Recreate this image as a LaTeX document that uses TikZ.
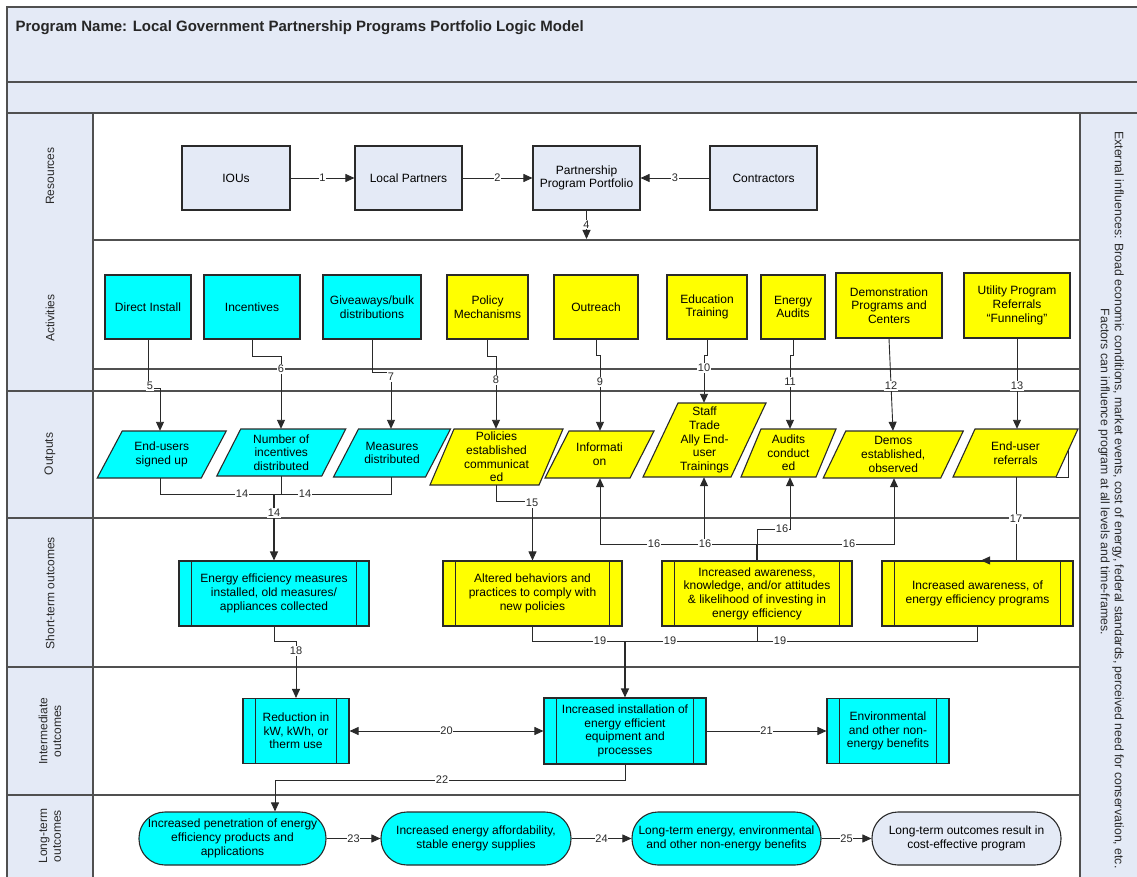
\documentclass[tikz,border=0pt]{standalone}
\usepackage{fontspec}
\setmainfont{Liberation Sans}
\usetikzlibrary{arrows.meta}
\definecolor{bandfill}{HTML}{E4EAF6}
\definecolor{linec}{HTML}{2A2A2A}
\definecolor{framec}{HTML}{505050}
\definecolor{cyanf}{HTML}{00FFFF}
\definecolor{yellowf}{HTML}{FFFF00}
\newcommand{\ParaBox}[8]{%
  \draw[line width=1.1pt, draw=linec, fill=#7] ({#2-#4/2+#6},{#3-#5/2}) -- ({#2+#4/2+#6},{#3-#5/2}) -- ({#2+#4/2-#6},{#3+#5/2}) -- ({#2-#4/2-#6},{#3+#5/2}) -- cycle;
  \node[ptext, minimum width=#4pt, minimum height=#5pt] (#1) at (#2,#3) {#8};}
\begin{document}
\begin{tikzpicture}[x=1pt,y=-1pt,
  box/.style={draw=linec, line width=1.1pt, align=center, font=\fontsize{12}{13.7}\selectfont, inner sep=1pt},
  res/.style={box, fill=bandfill},
  cyb/.style={box, fill=cyanf},
  yeb/.style={box, fill=yellowf},
  proc/.style={path picture={\draw[linec, line width=1.1pt]
     ([xshift=12.5pt]path picture bounding box.north west) -- ([xshift=12.5pt]path picture bounding box.south west)
     ([xshift=-12.5pt]path picture bounding box.north east) -- ([xshift=-12.5pt]path picture bounding box.south east);}},
  stad/.style={box, rounded corners=26pt},
  ptext/.style={inner sep=0pt, align=center, font=\fontsize{12}{13.7}\selectfont},
  frame/.style={draw=framec, line width=1.4pt},
  line/.style={draw=linec, line width=0.9pt},
  arr/.style={line, -{Triangle[length=9pt,width=8pt]}},
  arr2/.style={line, {Triangle[length=9pt,width=8pt]}-{Triangle[length=9pt,width=8pt]}},
  lbl/.style={fill=white, inner sep=0.8pt, font=\fontsize{11}{12}\selectfont, text=linec},
  lane/.style={font=\fontsize{12}{13.7}\selectfont, rotate=90, align=center, text=linec}
]
\useasboundingbox (0,0) rectangle (1137,877);
% backgrounds
\fill[white] (0,0) rectangle (1137,877);
\fill[bandfill] (7,7) rectangle (1137,113);
\fill[bandfill] (7,113) rectangle (93,877);
\fill[bandfill] (1080,113) rectangle (1137,877);
\draw[frame] (1137,7) -- (7,7) -- (7,877);
\draw[frame] (7,82) -- (1137,82);
\draw[frame] (7,113) -- (1137,113);
\draw[frame] (93,113) -- (93,877);
\draw[frame] (1080,113) -- (1080,877);
\draw[frame] (93,240) -- (1080,240);
\draw[frame] (93,369) -- (1080,369);
\draw[frame] (7,391) -- (1080,391);
\draw[frame] (7,518) -- (1080,518);
\draw[frame] (7,667) -- (1080,667);
\draw[frame] (7,795) -- (1080,795);

% title and lane labels
\node[anchor=west, font=\bfseries\fontsize{15}{17}\selectfont, text=black!85] (title) at (12,28) {Program Name: Local Government Partnership Programs Portfolio Logic Model};
\node[lane] (Lres) at (50,176) {Resources};
\node[lane] (Lact) at (50,318) {Activities};
\node[lane] (Lout) at (50,454) {Outputs};
\node[lane] (Lst) at (50,593) {Short-term outcomes};
\node[lane] (Lint) at (50,731) {Intermediate\\outcomes};
\node[lane] (Llt) at (50,836) {Long-term\\outcomes};
\node[font=\fontsize{12.3}{14}\selectfont, rotate=-90, align=center, text=linec] (ext) at (1111,500)
 {External influences: Broad economic conditions, market events, cost of energy, federal standards, perceived need for conservation, etc.\\Factors can influence program at all levels and time-frames.\hspace*{56pt}};

% resources
\node[res, minimum width=108pt, minimum height=64pt] (r1) at (236,178) {IOUs};
\node[res, minimum width=107pt, minimum height=64pt] (r2) at (408.5,178) {Local Partners};
\node[res, minimum width=107pt, minimum height=64pt] (r3) at (586.5,178) {Partnership\\Program Portfolio};
\node[res, minimum width=107pt, minimum height=64pt] (r4) at (763.5,178) {Contractors};

% activities
\node[cyb, minimum width=86pt, minimum height=64pt] (a1) at (148,307) {Direct Install};
\node[cyb, minimum width=96pt, minimum height=64pt] (a2) at (252,307) {Incentives};
\node[cyb, minimum width=98pt, minimum height=64pt] (a3) at (372,307) {Giveaways/bulk\\distributions};
\node[yeb, minimum width=81pt, minimum height=64pt] (a4) at (487.5,307) {Policy\\Mechanisms};
\node[yeb, minimum width=84pt, minimum height=64pt] (a5) at (596,307) {Outreach};
\node[yeb, minimum width=80pt, minimum height=64pt] (a6) at (707,307) {Education\\Training};
\node[yeb, minimum width=64pt, minimum height=64pt] (a7) at (793,307) {Energy\\Audits};
\node[yeb, minimum width=106pt, minimum height=65pt] (a8) at (889,305.5) {Demonstration\\Programs and\\Centers};
\node[yeb, minimum width=106pt, minimum height=65pt] (a9) at (1017,305.5) {Utility Program\\Referrals\\“Funneling”};

% outputs
\ParaBox{o1}{161.75}{454.5}{104}{47}{12.5}{cyanf}{End-users\\signed up}
\ParaBox{o2}{281.25}{452.5}{105}{47}{12}{cyanf}{Number of\\incentives\\distributed}
\ParaBox{o3}{392}{453}{92}{48}{12.5}{cyanf}{Measures\\distributed}
\ParaBox{o4}{496.5}{457}{109}{56}{12}{yellowf}{Policies\\established\\communicat\\ed}
\ParaBox{o5}{599.5}{454.5}{85}{47}{12}{yellowf}{Informati\\on}
\ParaBox{o6}{704.5}{440}{88}{74}{17.5}{yellowf}{Staff\\Trade\\Ally End-\\user\\Trainings}
\ParaBox{o7}{788.5}{453}{75}{48}{10}{yellowf}{Audits\\conduct\\ed}
\ParaBox{o8}{893.25}{454.5}{117.5}{47}{11.25}{yellowf}{Demos\\established,\\observed}
\ParaBox{o9}{1015.5}{453}{103}{48}{11}{yellowf}{End-user\\referrals}
\draw[line] (1056,477) -- (1068,477) -- (1068,449);

% short-term
\node[cyb, proc, minimum width=190pt, minimum height=65pt] (s1) at (274,593.5) {Energy efficiency measures\\installed, old measures/\\appliances collected};
\node[yeb, proc, minimum width=179pt, minimum height=65pt] (s2) at (532.5,593.5) {Altered behaviors and\\practices to comply with\\new policies};
\node[yeb, proc, minimum width=190pt, minimum height=65pt] (s3) at (757,593.5) {Increased awareness,\\knowledge, and/or attitudes\\\& likelihood of investing in\\energy efficiency};
\node[yeb, proc, minimum width=191pt, minimum height=65pt] (s4) at (977.5,593.5) {Increased awareness, of\\energy efficiency programs};

% intermediate
\node[cyb, proc, minimum width=106pt, minimum height=65pt] (i1) at (296,731) {Reduction in\\kW, kWh, or\\therm use};
\node[cyb, proc, minimum width=162pt, minimum height=66pt] (i2) at (625,731) {Increased installation of\\energy efficient\\equipment and\\processes};
\node[cyb, proc, minimum width=122pt, minimum height=65pt] (i3) at (888,731) {Environmental\\and other non-\\energy benefits};

% long-term
\node[stad, fill=cyanf, minimum width=187pt, minimum height=53pt] (l1) at (232.5,838.5) {Increased penetration of energy\\efficiency products and\\applications};
\node[stad, fill=cyanf, minimum width=190pt, minimum height=53pt] (l2) at (476,838.5) {Increased energy affordability,\\stable energy supplies};
\node[stad, fill=cyanf, minimum width=189pt, minimum height=53pt] (l3) at (726.5,838.5) {Long-term energy, environmental\\and other non-energy benefits};
\node[stad, fill=bandfill, minimum width=189pt, minimum height=53pt] (l4) at (966.5,838.5) {Long-term outcomes result in\\cost-effective program};

% connectors: resources
\draw[arr] (r1) -- node[lbl] (n1) {1} (r2);
\draw[arr] (r2) -- node[lbl] (n2) {2} (r3);
\draw[arr] (r4) -- node[lbl] (n3) {3} (r3);
\draw[arr] (r3.south) -- node[lbl] (n4) {4} (586.5,239);

% activities -> outputs
\draw[arr] (a1.south) |- (160,388) -- (160,388 |- o1.north);
\draw[arr] (a2.south) |- (281,356) -- (281,356 |- o2.north);
\draw[arr] (a3.south) |- (391,372) -- (391,372 |- o3.north);
\draw[arr] (a4.south) |- (496,356) -- (496,356 |- o4.north);
\draw[arr] (a5.south) |- (600,355) -- (600,355 |- o5.north);
\draw[arr] (a6.south) |- (704,355) -- (704,355 |- o6.north);
\draw[arr] (a7.south) |- (790,355) -- (790,355 |- o7.north);
\draw[arr] (a8.south) -- (893,0 |- o8.north);
\draw[arr] (a9.south) -- (a9.south |- o9.north);

% outputs -> short-term
\draw[line] (160,0 |- o1.south) |- (274,494);
\draw[line] (281,0 |- o2.south) |- (274,494);
\draw[line] (391,0 |- o3.south) |- (274,494);
\draw[arr, line width=1.4pt] (274,494) -- (s1.north);
\draw[arr] (496,0 |- o4.south) |- (532.5,501) -- (s2.north);
\draw[arr] (s3.north) |- (790,529) -- (790,0 |- o7.south);
\draw[arr] (s3.north) |- (600,544) -- (600,0 |- o5.south);
\draw[arr] (s3.north) |- (894,544) -- (894,0 |- o8.south);
\draw[arr] (704,544) -- (704,0 |- o6.south);
\draw[line, line width=1.4pt] (s3.north) -- (757,544);
\draw[arr] (1016,0 |- o9.south) |- (981,0 |- s4.north);

% short-term -> intermediate
\draw[arr] (s1.south) |- (296,641) -- (i1.north);
\draw[line] (s2.south) |- (625,641);
\draw[line] (s3.south) |- (625,641);
\draw[line] (s4.south) |- (757,641);
\draw[arr, line width=1.4pt] (625,641) -- (i2.north);

% intermediate
\draw[arr2] (i1) -- node[lbl] (n20) {20} (i2);
\draw[arr] (i2) -- node[lbl] (n21) {21} (i3);
\draw[arr] (i2.south) |- (275,780) -- (275,0 |- l1.north);

% long-term
\draw[arr] (l1) -- node[lbl] (n23) {23} (l2);
\draw[arr] (l2) -- node[lbl] (n24) {24} (l3);
\draw[arr] (l3) -- node[lbl] (n25) {25} (l4);

% labels
\node[lbl] (n5) at (150,386) {5};
\node[lbl] (n6) at (281,369) {6};
\node[lbl] (n7) at (391,377) {7};
\node[lbl] (n8) at (496,380) {8};
\node[lbl] (n9) at (600,382) {9};
\node[lbl] (n10) at (704,368) {10};
\node[lbl] (n11) at (790,382) {11};
\node[lbl] (n12) at (891,386) {12};
\node[lbl] (n13) at (1017,386) {13};
\node[lbl] (n14a) at (242,494) {14};
\node[lbl] (n14b) at (305,494) {14};
\node[lbl] (n14c) at (274,513) {14};
\node[lbl] (n15) at (532,503) {15};
\node[lbl] (n16a) at (782,529) {16};
\node[lbl] (n16b) at (654,544) {16};
\node[lbl] (n16c) at (705,544) {16};
\node[lbl] (n16d) at (849,544) {16};
\node[lbl] (n17) at (1016,519) {17};
\node[lbl] (n18) at (296,651) {18};
\node[lbl] (n19a) at (600,641) {19};
\node[lbl] (n19b) at (670,641) {19};
\node[lbl] (n19c) at (780,641) {19};
\node[lbl] (n22) at (442,780) {22};
\end{tikzpicture}
\end{document}
